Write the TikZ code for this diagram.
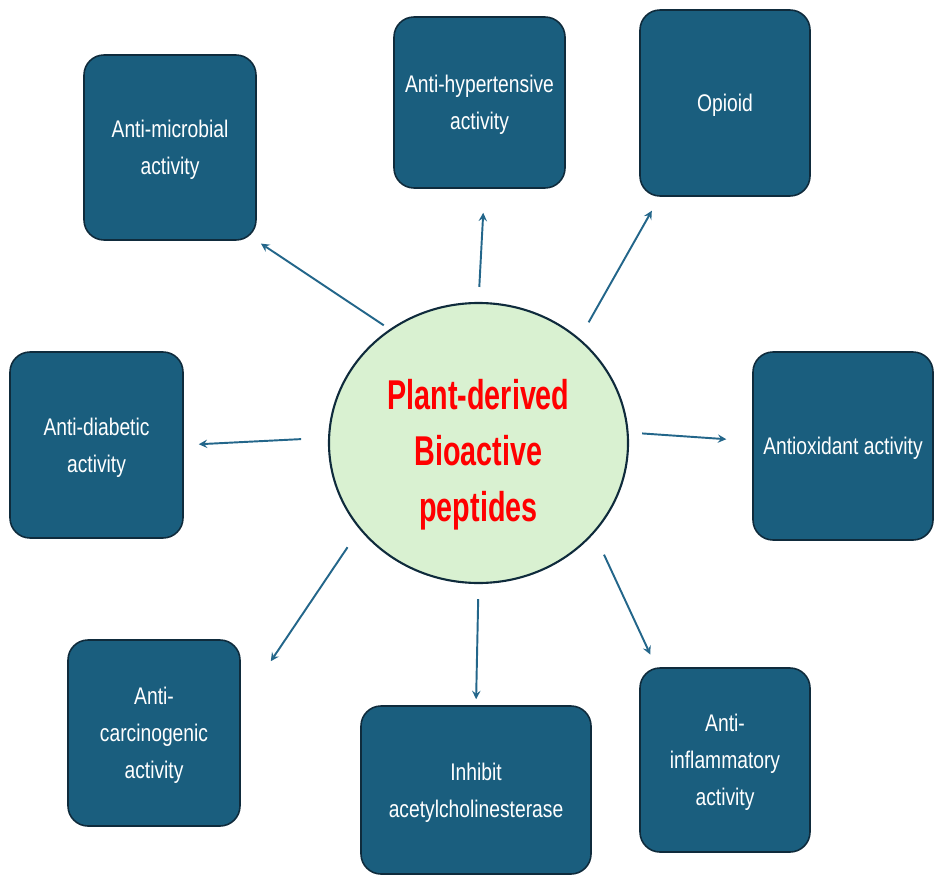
\documentclass[tikz,border=0pt]{standalone}
\usepackage{fontspec}
\setmainfont{Liberation Sans}
\newfontfamily\boxfont[FakeStretch=0.8]{Liberation Sans}
\newfontfamily\hubfont[FakeStretch=0.69]{Liberation Sans}
\usepackage{tikz}
\usetikzlibrary{shapes.geometric, arrows, positioning}
\definecolor{boxblue}{HTML}{1A5E7E}
\definecolor{boxline}{HTML}{0F2B3C}
\definecolor{hubgreen}{HTML}{D9F1D1}
\definecolor{arrowblue}{HTML}{23668A}
\tikzset{
    activity/.style = {rectangle, rounded corners=0.4cm, draw=boxline, line width=0.9pt, fill=boxblue, text=white, align=center, text depth=0pt, font=\boxfont\fontsize{13.7}{21}\selectfont},
    hub/.style = {ellipse, draw=boxline, line width=1.2pt, fill=hubgreen, text=red, align=center, text height=89.6pt, text depth=0pt, minimum width=5.98cm, minimum height=5.6cm, font=\hubfont\bfseries\fontsize{23.7}{31.8}\selectfont},
    arrow/.style = {line width=1.1pt,->,>=stealth, draw=arrowblue}
}

\begin{document}
\begin{tikzpicture}
    \useasboundingbox (0,0) rectangle (18.68,17.48);
    % Nodes
    \node (hub) [hub] at (9.57,8.62) {Plant-derived\\Bioactive\\peptides};
    \node (amb) [activity, minimum width=3.44cm, minimum height=3.70cm] at (3.40,14.53) {Anti-microbial\\activity};
    \node (ahy) [activity, minimum width=3.42cm, minimum height=3.42cm] at (9.59,15.43) {Anti-hypertensive\\activity};
    \node (opi) [activity, minimum width=3.40cm, minimum height=3.72cm] at (14.50,15.42) {Opioid};
    \node (adi) [activity, minimum width=3.46cm, minimum height=3.72cm] at (1.93,8.58) {Anti-diabetic\\activity};
    \node (aox) [activity, minimum width=3.60cm, minimum height=3.76cm] at (16.86,8.56) {Antioxidant activity};
    \node (aca) [activity, minimum width=3.44cm, minimum height=3.72cm] at (3.08,2.82) {Anti-\\carcinogenic\\activity};
    \node (inh) [activity, minimum width=4.60cm, minimum height=3.36cm] at (9.52,1.68) {Inhibit\\acetylcholinesterase};
    \node (ain) [activity, minimum width=3.40cm, minimum height=3.68cm] at (14.50,2.28) {Anti-\\inflammatory\\activity};

    %Arrows
    \draw [arrow, shorten <=0.14cm, shorten >=0.1cm] (hub.128) -- (amb.south east);
    \draw [arrow, shorten <=0.3cm, shorten >=0.48cm] (hub.north) -- ([xshift=0.1cm]ahy.south);
    \draw [arrow, shorten <=0.37cm, shorten >=0.32cm] (hub.46) -- ([xshift=0.41cm]opi.south west);
    \draw [arrow, shorten <=0.54cm, shorten >=0.3cm] (hub.178) -- (adi.east);
    \draw [arrow, shorten <=0.27cm, shorten >=0.52cm] (hub.4) -- ([yshift=0.1cm]aox.west);
    \draw [arrow, shorten <=0.43cm] (hub.216) -- ([xshift=0.6cm,yshift=-0.44cm]aca.north east);
    \draw [arrow, shorten <=0.3cm, shorten >=0.12cm] (hub.south) -- (inh.north);
    \draw [arrow, shorten <=0.47cm, shorten >=0.28cm] (hub.-38) -- ([xshift=0.34cm]ain.north west);
\end{tikzpicture}
\end{document}
